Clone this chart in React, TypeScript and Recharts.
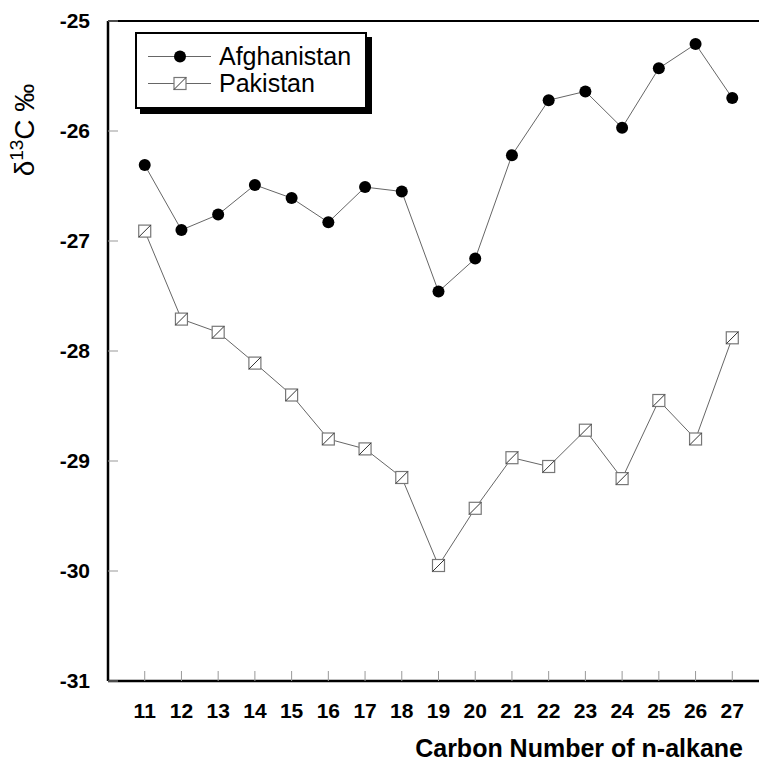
import React from "react"
import { LineChart, Line, XAxis, YAxis, Legend, Label } from "recharts"

// carbon number of n-alkane (x)
const carbonNumbers = [11, 12, 13, 14, 15, 16, 17, 18, 19, 20, 21, 22, 23, 24, 25, 26, 27]
// delta 13C values, per mil
const afghanistan = [-26.31, -26.9, -26.76, -26.49, -26.61, -26.83, -26.51, -26.55, -27.46, -27.16, -26.22, -25.72, -25.64, -25.97, -25.43, -25.21, -25.7]
const pakistan = [-26.91, -27.71, -27.83, -28.11, -28.4, -28.8, -28.89, -29.15, -29.95, -29.43, -28.97, -29.05, -28.72, -29.16, -28.45, -28.8, -27.88]
const yTicks = [-31, -30, -29, -28, -27, -26, -25]

const data = carbonNumbers.map((c, i) => ({
  carbon: c,
  afghanistan: afghanistan[i],
  pakistan: pakistan[i],
}))

const font = "'Liberation Sans', Arial, sans-serif"

function CircleDot(props: any) {
  const { cx, cy } = props
  if (cx == null || cy == null) return null
  return <circle cx={cx} cy={cy} r={6} fill="#000" />
}

function SquareDot(props: any) {
  const { cx, cy } = props
  if (cx == null || cy == null) return null
  const h = 6
  return (
    <g>
      <rect x={cx - h} y={cy - h} width={h * 2} height={h * 2} fill="#fff" stroke="#777" strokeWidth={1.2} />
      <line x1={cx - h} y1={cy + h} x2={cx + h} y2={cy - h} stroke="#333" strokeWidth={1} />
    </g>
  )
}

function LegendBox(props: any) {
  const { payload = [] } = props
  return (
    <div
      style={{
        width: 232,
        height: 77,
        border: "2px solid #000",
        boxShadow: "5px 5px 0 #000",
        background: "#fff",
        fontFamily: font,
        fontSize: 25,
        paddingTop: 9,
        boxSizing: "border-box",
      }}
    >
      {payload.map((p: any) => (
        <div key={p.dataKey} style={{ display: "flex", alignItems: "center", height: 27 }}>
          <svg width={82} height={27}>
            <line x1={11} y1={13.5} x2={74} y2={13.5} stroke="#666" strokeWidth={1} />
            {p.dataKey === "afghanistan" ? <CircleDot cx={43} cy={13.5} /> : <SquareDot cx={43} cy={13.5} />}
          </svg>
          <span style={{ color: "#000", lineHeight: "27px" }}>{p.value}</span>
        </div>
      ))}
    </div>
  )
}

function XTitle(props: any) {
  const vb = props.viewBox
  return (
    <text x={vb.x + vb.width - 26} y={vb.y + vb.height - 3.5} textAnchor="end" fontFamily={font} fontWeight="bold" fontSize={25} fill="#000">
      Carbon Number of n-alkane
    </text>
  )
}

function YTitle(props: any) {
  const vb = props.viewBox
  const x = vb.x + 34
  const y = vb.y + 109
  return (
    <text x={x} y={y} transform={`rotate(-90 ${x} ${y})`} textAnchor="middle" fontFamily={font} fontSize={28} fill="#000">
      δ<tspan dy={-11} fontSize={19}>13</tspan>
      <tspan dy={11}>C ‰</tspan>
    </text>
  )
}

const tickFont = { fill: "#000", fontSize: 21, fontWeight: "bold", fontFamily: font }
const thinTick = { stroke: "#999", strokeWidth: 1 }

export default function App() {
  return (
    <div style={{ position: "absolute", left: 0, top: 0, width: 759, height: 760, overflow: "hidden", background: "#fff" }}>
      <LineChart width={780} height={760} data={data} margin={{ top: 0, right: 0, bottom: 0, left: 0 }}>
        <XAxis
          dataKey="carbon"
          type="number"
          domain={[10, 28]}
          ticks={carbonNumbers}
          interval={0}
          height={79}
          tick={tickFont}
          tickSize={-10}
          tickMargin={32}
          axisLine={{ stroke: "#000", strokeWidth: 2.5 }}
          tickLine={thinTick}
        >
          <Label content={XTitle} />
        </XAxis>
        <XAxis
          xAxisId="top"
          orientation="top"
          dataKey="carbon"
          type="number"
          domain={[10, 28]}
          ticks={carbonNumbers}
          interval={0}
          height={21}
          tick={false}
          tickSize={-10}
          axisLine={{ stroke: "#000", strokeWidth: 2 }}
          tickLine={thinTick}
        />
        <YAxis
          type="number"
          domain={[-31, -25]}
          ticks={yTicks}
          interval={0}
          width={108}
          tick={tickFont}
          tickSize={-10}
          tickMargin={28}
          axisLine={{ stroke: "#000", strokeWidth: 2.5 }}
          tickLine={thinTick}
        >
          <Label content={YTitle} />
        </YAxis>
        <YAxis
          yAxisId="right"
          orientation="right"
          type="number"
          domain={[-31, -25]}
          ticks={yTicks}
          width={11}
          tick={false}
          tickSize={-10}
          axisLine={{ stroke: "#000", strokeWidth: 2 }}
          tickLine={thinTick}
        />
        <Legend
          layout="vertical"
          align="center"
          verticalAlign="middle"
          content={LegendBox}
          wrapperStyle={{ left: 135, top: 32, width: 232 }}
        />
        <Line
          dataKey="afghanistan"
          name="Afghanistan"
          stroke="#666"
          strokeWidth={1}
          dot={CircleDot}
          activeDot={false}
          isAnimationActive={false}
        />
        <Line
          dataKey="pakistan"
          name="Pakistan"
          stroke="#666"
          strokeWidth={1}
          dot={SquareDot}
          activeDot={false}
          isAnimationActive={false}
        />
      </LineChart>
    </div>
  )
}
